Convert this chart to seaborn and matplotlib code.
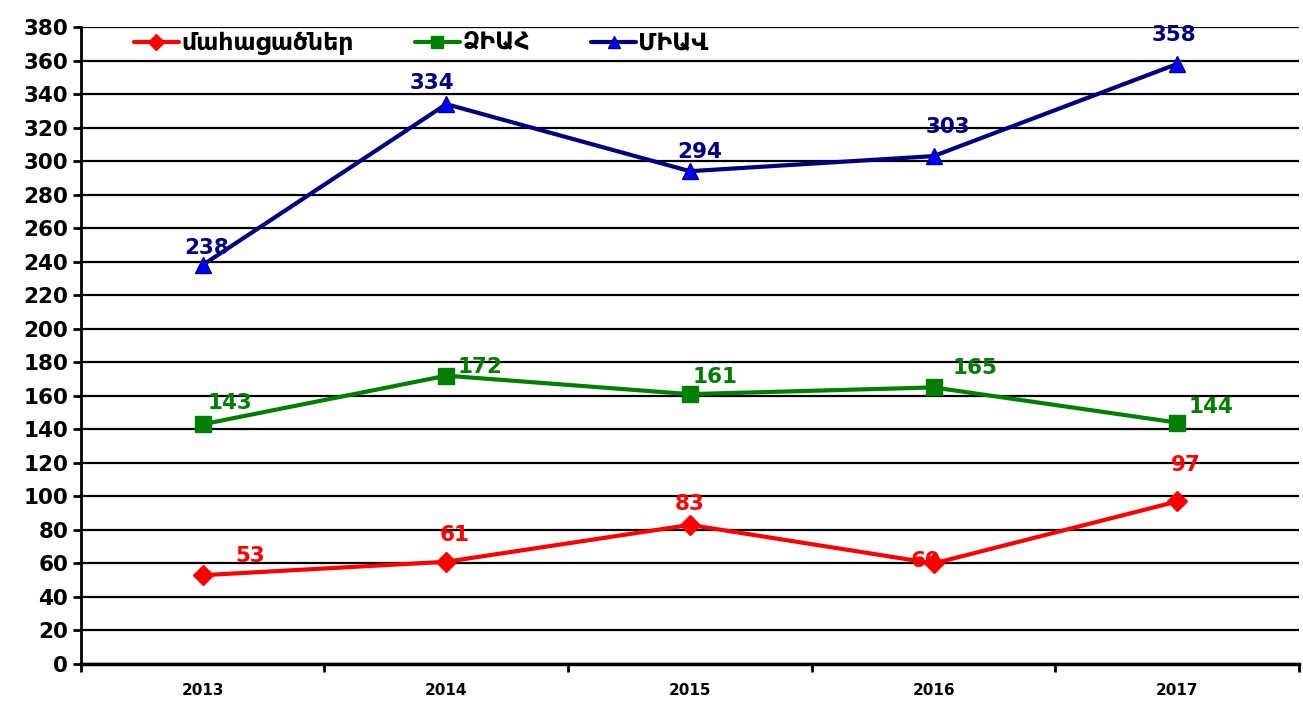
import matplotlib
matplotlib.use("Agg")
import matplotlib.pyplot as plt
import numpy as np
import pandas as pd
import seaborn as sns

years = ["2013", "2014", "2015", "2016", "2017"]
deaths = [53, 61, 83, 60, 97]
aids = [143, 172, 161, 165, 144]
hiv = [238, 334, 294, 303, 358]

series_names = ["մահացածներ", "ՁԻԱՀ", "ՄԻԱՎ"]
y_ticks = list(range(0, 381, 20))

# label offsets in points (dx, dy) for each series
label_offsets = {
    "մահացածներ": [(34, 14), (6, 19), (0, 15), (-6, 2), (6, 26)],
    "ՁԻԱՀ": [(20, 15), (24, 6), (18, 12), (30, 14), (24, 11)],
    "ՄԻԱՎ": [(3, 12), (-10, 15), (7, 14), (10, 21), (-2, 21)],
}

df = pd.DataFrame({
    "year": years * 3,
    "value": deaths + aids + hiv,
    "series": [series_names[0]] * 5 + [series_names[1]] * 5 + [series_names[2]] * 5,
})

styles = {
    "մահացածներ": dict(color="#FF0000", marker="D", mfc="#FF0000", mec="#FF0000", ms=10, label_color="#FF0000"),
    "ՁԻԱՀ": dict(color="#008000", marker="s", mfc="#008000", mec="#008000", ms=12, label_color="#008000"),
    "ՄԻԱՎ": dict(color="#000080", marker="^", mfc="#0000FF", mec="#000080", ms=12, label_color="#000080"),
}

sns.set_theme(style="white")
plt.rcParams["font.family"] = ["DejaVu Sans"]
plt.rcParams["text.color"] = "black"

fig = plt.figure(figsize=(13.03, 7.02), dpi=100)
ax = fig.add_axes([0.062, 0.0541, 0.935, 0.9074])

for name in series_names:
    st = styles[name]
    sub = df[df["series"] == name]
    sns.lineplot(data=sub, x="year", y="value", ax=ax, color=st["color"], linewidth=3,
                 marker=st["marker"], markersize=st["ms"], markerfacecolor=st["mfc"],
                 markeredgecolor=st["mec"], markeredgewidth=1, label=name, zorder=3)
    for i, v in enumerate(sub["value"]):
        dx, dy = label_offsets[name][i]
        ax.annotate(str(v), (i, v), xytext=(dx, dy), textcoords="offset points",
                    ha="center", va="center", fontsize=15.5, fontweight="bold",
                    color=st["label_color"], zorder=4)

ax.set_xlim(-0.5, 4.5)
ax.set_ylim(0, 380)
ax.set_yticks(y_ticks)
ax.set_yticklabels([str(t) for t in y_ticks], fontsize=15.5, fontweight="bold", color="black")
ax.set_xticks(range(len(years)))
ax.set_xticklabels(years, fontsize=11, fontweight="bold", color="black")
ax.tick_params(axis="x", which="major", bottom=False, length=0, pad=14)
ax.set_xticks(np.arange(-0.5, 4.6, 1.0), minor=True)
ax.tick_params(axis="x", which="minor", bottom=True, length=6, width=2, direction="out", color="black")
ax.tick_params(axis="y", left=True, length=6, width=2, direction="out", color="black", pad=3)
ax.yaxis.grid(True, color="black", linewidth=1.6)
ax.set_axisbelow(True)
ax.set_xlabel("")
ax.set_ylabel("")
for side in ["top", "right"]:
    ax.spines[side].set_visible(False)
ax.spines["left"].set_color("black")
ax.spines["left"].set_linewidth(2)
ax.spines["bottom"].set_color("black")
ax.spines["bottom"].set_linewidth(2.5)

leg = ax.legend(loc="center left", bbox_to_anchor=(0.03, 0.975), ncol=3, frameon=False,
                prop={"weight": "bold", "size": 17}, handlelength=1.9, handletextpad=0.1,
                columnspacing=2.6, borderpad=0.2)
for line in leg.get_lines():
    line.set_markersize(8)
for txt in leg.get_texts():
    txt.set_color("black")

fig.savefig("out.png", dpi=100)
